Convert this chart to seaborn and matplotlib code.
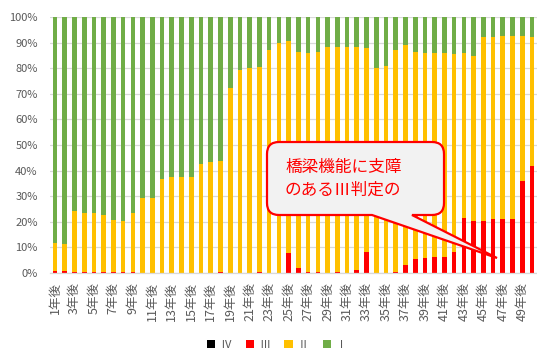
import numpy as np
import pandas as pd
import seaborn as sns
import matplotlib.pyplot as plt
from matplotlib.path import Path
from matplotlib.patches import PathPatch, Patch

# Share of bridges by inspection grade (%), 1 to 50 years after
years = [f"{n}年後" for n in range(1, 51)]

grade_iv = [0.0] * 50
grade_iii = [0.8, 0.8, 0.2, 0.2, 0.2, 0.2, 0.2, 0.2, 0.2, 0.0,
             0.0, 0.0, 0.0, 0.0, 0.0, 0.0, 0.0, 0.2, 0.0, 0.0,
             0.0, 0.2, 0.0, 0.0, 7.8, 1.8, 0.2, 0.2, 0.0, 0.2,
             0.0, 1.0, 8.2, 0.0, 0.0, 0.2, 3.0, 5.2, 5.9, 6.0,
             6.0, 8.1, 21.5, 20.4, 20.4, 20.9, 21.0, 21.0, 36.0, 41.8]
grade_ii = [11.0, 10.6, 23.8, 23.3, 23.3, 22.2, 20.5, 20.1, 23.3, 29.1,
            29.1, 36.7, 37.3, 37.3, 37.3, 42.7, 43.2, 43.5, 72.5, 79.3,
            80.1, 80.5, 87.2, 90.1, 83.0, 84.7, 85.9, 86.3, 88.4, 88.2,
            88.4, 87.4, 79.6, 80.3, 80.9, 87.0, 86.2, 81.3, 80.2, 80.1,
            80.1, 77.4, 64.6, 64.4, 72.0, 71.5, 71.7, 71.7, 56.7, 50.6]
grade_i = [88.2, 88.6, 76.0, 76.5, 76.5, 77.6, 79.3, 79.7, 76.5, 70.9,
           70.9, 63.3, 62.7, 62.7, 62.7, 57.3, 56.8, 56.3, 27.5, 20.7,
           19.9, 19.3, 12.8, 9.9, 9.2, 13.5, 13.9, 13.5, 11.6, 11.6,
           11.6, 11.6, 12.2, 19.7, 19.1, 12.8, 10.8, 13.5, 13.9, 13.9,
           13.9, 14.5, 13.9, 15.2, 7.6, 7.6, 7.3, 7.3, 7.3, 7.6]

grade_labels = ["Ⅳ", "Ⅲ", "Ⅱ", "Ⅰ"]
grade_colors = ["#000000", "#FF0000", "#FFC000", "#70AD47"]

sns.set_theme(style="white")
plt.rcParams["font.family"] = ["Noto Sans CJK JP", "DejaVu Sans"]

W, H = 537, 349
fig = plt.figure(figsize=(W / 100, H / 100), dpi=100)
ax = fig.add_axes([50.1 / W, 1 - 272.7 / H, 486.8 / W, 255.4 / H])

df = pd.DataFrame({"year": years, "Ⅳ": grade_iv, "Ⅲ": grade_iii,
                   "Ⅱ": grade_ii, "Ⅰ": grade_i})
stack = df[grade_labels].cumsum(axis=1)

# draw cumulative layers from the tallest down so each sits on top of the last
for lab, col in reversed(list(zip(grade_labels, grade_colors))):
    sns.barplot(x=df["year"], y=stack[lab], color=col, saturation=1,
                width=0.48, linewidth=0, ax=ax, zorder=2)

ax.set_xlim(-0.5, 49.5)
ax.set_ylim(0, 100)
ax.set_yticks(np.arange(0, 101, 10))
ax.set_yticklabels([f"{v}%" for v in range(0, 101, 10)])
ax.set_xticks(range(0, 50, 2))
ax.set_xticklabels(years[::2], rotation=90)
ax.tick_params(axis="y", length=0, pad=9, labelsize=8, labelcolor="#595959")
ax.tick_params(axis="x", length=0, pad=7, labelsize=9, labelcolor="#595959")
ax.set_xlabel("")
ax.set_ylabel("")
ax.grid(axis="y", color="#D9D9D9", linewidth=0.9, zorder=0)
ax.set_axisbelow(True)
for side in ["left", "right", "top"]:
    ax.spines[side].set_visible(False)
ax.spines["bottom"].set_color("#D9D9D9")
ax.spines["bottom"].set_linewidth(0.9)

handles = [Patch(facecolor=c, edgecolor="none") for c in grade_colors]
fig.legend(handles, grade_labels, loc="center", bbox_to_anchor=(277 / W, 1 - 345 / H),
           ncol=4, frameon=False, fontsize=8, handlelength=0.75, handleheight=0.75,
           handletextpad=0.45, columnspacing=1.3, labelcolor="#595959")

# speech-bubble callout
L, R, T, B, r = 267, 444, 142, 215, 12
tail_l, tail_r, tip = 372, 412, (497, 258)


def fp(x, y):
    return (x / W, 1 - y / H)


verts = [fp(L + r, B), fp(tail_l, B), fp(*tip), fp(tail_r, B), fp(R - r, B),
         fp(R, B), fp(R, B - r),
         fp(R, T + r),
         fp(R, T), fp(R - r, T),
         fp(L + r, T),
         fp(L, T), fp(L, T + r),
         fp(L, B - r),
         fp(L, B), fp(L + r, B),
         fp(L + r, B)]
codes = [Path.MOVETO, Path.LINETO, Path.LINETO, Path.LINETO, Path.LINETO,
         Path.CURVE3, Path.CURVE3,
         Path.LINETO,
         Path.CURVE3, Path.CURVE3,
         Path.LINETO,
         Path.CURVE3, Path.CURVE3,
         Path.LINETO,
         Path.CURVE3, Path.CURVE3,
         Path.CLOSEPOLY]
bubble = PathPatch(Path(verts, codes), facecolor="#F2F2F2", edgecolor="#FF0000",
                   linewidth=1.6, transform=fig.transFigure, zorder=5)
fig.add_artist(bubble)

fig.text(285 / W, 1 - 168 / H, "橋梁機能に支障", color="#FF0000", fontsize=12,
         va="center", ha="left", zorder=6)
fig.text(285 / W, 1 - 190 / H, "のあるⅢ判定の", color="#FF0000", fontsize=12,
         va="center", ha="left", zorder=6)

fig.savefig("out.png", dpi=100)
